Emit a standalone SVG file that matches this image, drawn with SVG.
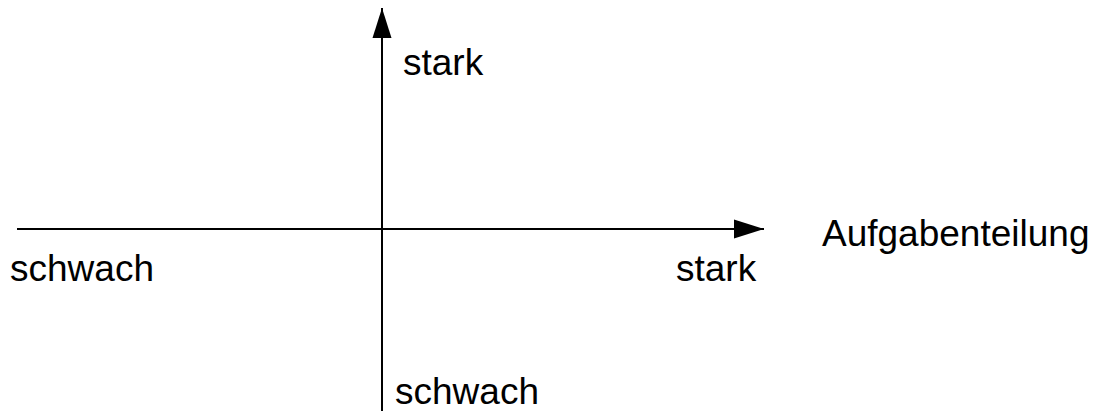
<svg xmlns="http://www.w3.org/2000/svg" width="1098" height="411" viewBox="0 0 1098 411">
<style>
.ax{stroke:#000;stroke-width:2;fill:none}
.t{font-family:"Liberation Sans",Arial,sans-serif;font-size:37px;fill:#000}
</style>
<defs>
<marker id="ah" markerUnits="userSpaceOnUse" markerWidth="30" markerHeight="20" refX="30" refY="10" orient="auto" viewBox="0 0 30 20">
<path d="M0,0.5 L30,10 L0,19.5 Z" fill="#000"/>
</marker>
</defs>
<rect width="1098" height="411" fill="#fff"/>
<g id="connectors">
<line class="ax" x1="17" y1="229" x2="764" y2="229" marker-end="url(#ah)"/>
<line class="ax" x1="382" y1="411" x2="382" y2="8" marker-end="url(#ah)"/>
</g>
<g id="label-y-top"><text class="t" x="403" y="75">stark</text></g>
<g id="label-y-bottom"><text class="t" x="395" y="404">schwach</text></g>
<g id="label-x-left"><text class="t" x="10" y="281">schwach</text></g>
<g id="label-x-right"><text class="t" x="676" y="281">stark</text></g>
<g id="label-x-axis"><text class="t" x="822" y="246">Aufgabenteilung</text></g>
</svg>
